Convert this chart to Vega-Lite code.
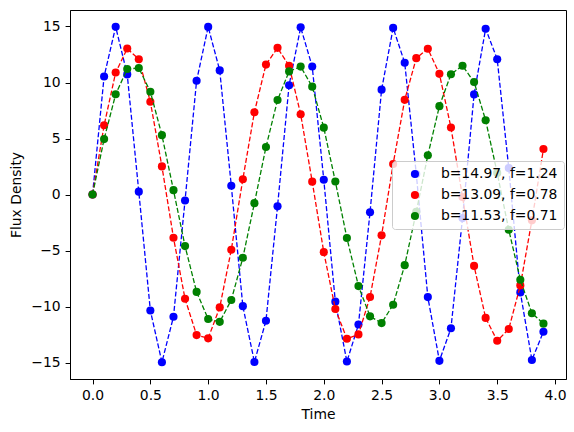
{
  "$schema": "https://vega.github.io/schema/vega-lite/v6.json",
  "width": 496,
  "height": 369,
  "autosize": {"type": "none"},
  "padding": {"left": 70, "top": 10, "right": 8, "bottom": 53},
  "background": "white",
  "config": {
    "font": "DejaVu Sans",
    "view": {"stroke": "black", "strokeWidth": 1},
    "axis": {
      "grid": false,
      "domainColor": "black",
      "tickColor": "black",
      "tickSize": 4.9,
      "labelPadding": 4.9,
      "labelColor": "black",
      "labelFontSize": 13.9,
      "labelFont": "DejaVu Sans",
      "titleFont": "DejaVu Sans",
      "titleFontSize": 13.9,
      "titleFontWeight": "normal",
      "titleColor": "black"
    }
  },
  "data": {
    "values": [
      {"t": 0.0, "y": 0, "series": "b=14.97, f=1.24"},
      {"t": 0.1, "y": 10.54, "series": "b=14.97, f=1.24"},
      {"t": 0.2, "y": 14.97, "series": "b=14.97, f=1.24"},
      {"t": 0.3, "y": 10.72, "series": "b=14.97, f=1.24"},
      {"t": 0.4, "y": 0.26, "series": "b=14.97, f=1.24"},
      {"t": 0.5, "y": -10.35, "series": "b=14.97, f=1.24"},
      {"t": 0.6, "y": -14.96, "series": "b=14.97, f=1.24"},
      {"t": 0.7, "y": -10.91, "series": "b=14.97, f=1.24"},
      {"t": 0.8, "y": -0.53, "series": "b=14.97, f=1.24"},
      {"t": 0.9, "y": 10.16, "series": "b=14.97, f=1.24"},
      {"t": 1.0, "y": 14.96, "series": "b=14.97, f=1.24"},
      {"t": 1.1, "y": 11.08, "series": "b=14.97, f=1.24"},
      {"t": 1.2, "y": 0.79, "series": "b=14.97, f=1.24"},
      {"t": 1.3, "y": -9.96, "series": "b=14.97, f=1.24"},
      {"t": 1.4, "y": -14.94, "series": "b=14.97, f=1.24"},
      {"t": 1.5, "y": -11.26, "series": "b=14.97, f=1.24"},
      {"t": 1.6, "y": -1.05, "series": "b=14.97, f=1.24"},
      {"t": 1.7, "y": 9.76, "series": "b=14.97, f=1.24"},
      {"t": 1.8, "y": 14.92, "series": "b=14.97, f=1.24"},
      {"t": 1.9, "y": 11.43, "series": "b=14.97, f=1.24"},
      {"t": 2.0, "y": 1.32, "series": "b=14.97, f=1.24"},
      {"t": 2.1, "y": -9.56, "series": "b=14.97, f=1.24"},
      {"t": 2.2, "y": -14.9, "series": "b=14.97, f=1.24"},
      {"t": 2.3, "y": -11.6, "series": "b=14.97, f=1.24"},
      {"t": 2.4, "y": -1.58, "series": "b=14.97, f=1.24"},
      {"t": 2.5, "y": 9.36, "series": "b=14.97, f=1.24"},
      {"t": 2.6, "y": 14.87, "series": "b=14.97, f=1.24"},
      {"t": 2.7, "y": 11.76, "series": "b=14.97, f=1.24"},
      {"t": 2.8, "y": 1.84, "series": "b=14.97, f=1.24"},
      {"t": 2.9, "y": -9.15, "series": "b=14.97, f=1.24"},
      {"t": 3.0, "y": -14.84, "series": "b=14.97, f=1.24"},
      {"t": 3.1, "y": -11.93, "series": "b=14.97, f=1.24"},
      {"t": 3.2, "y": -2.1, "series": "b=14.97, f=1.24"},
      {"t": 3.3, "y": 8.94, "series": "b=14.97, f=1.24"},
      {"t": 3.4, "y": 14.8, "series": "b=14.97, f=1.24"},
      {"t": 3.5, "y": 12.08, "series": "b=14.97, f=1.24"},
      {"t": 3.6, "y": 2.36, "series": "b=14.97, f=1.24"},
      {"t": 3.7, "y": -8.73, "series": "b=14.97, f=1.24"},
      {"t": 3.8, "y": -14.76, "series": "b=14.97, f=1.24"},
      {"t": 3.9, "y": -12.24, "series": "b=14.97, f=1.24"},
      {"t": 0.0, "y": 0, "series": "b=13.09, f=0.78"},
      {"t": 0.1, "y": 6.18, "series": "b=13.09, f=0.78"},
      {"t": 0.2, "y": 10.89, "series": "b=13.09, f=0.78"},
      {"t": 0.3, "y": 13.03, "series": "b=13.09, f=0.78"},
      {"t": 0.4, "y": 12.08, "series": "b=13.09, f=0.78"},
      {"t": 0.5, "y": 8.28, "series": "b=13.09, f=0.78"},
      {"t": 0.6, "y": 2.51, "series": "b=13.09, f=0.78"},
      {"t": 0.7, "y": -3.85, "series": "b=13.09, f=0.78"},
      {"t": 0.8, "y": -9.3, "series": "b=13.09, f=0.78"},
      {"t": 0.9, "y": -12.54, "series": "b=13.09, f=0.78"},
      {"t": 1.0, "y": -12.83, "series": "b=13.09, f=0.78"},
      {"t": 1.1, "y": -10.07, "series": "b=13.09, f=0.78"},
      {"t": 1.2, "y": -4.93, "series": "b=13.09, f=0.78"},
      {"t": 1.3, "y": 1.37, "series": "b=13.09, f=0.78"},
      {"t": 1.4, "y": 7.35, "series": "b=13.09, f=0.78"},
      {"t": 1.5, "y": 11.6, "series": "b=13.09, f=0.78"},
      {"t": 1.6, "y": 13.09, "series": "b=13.09, f=0.78"},
      {"t": 1.7, "y": 11.49, "series": "b=13.09, f=0.78"},
      {"t": 1.8, "y": 7.17, "series": "b=13.09, f=0.78"},
      {"t": 1.9, "y": 1.15, "series": "b=13.09, f=0.78"},
      {"t": 2.0, "y": -5.14, "series": "b=13.09, f=0.78"},
      {"t": 2.1, "y": -10.21, "series": "b=13.09, f=0.78"},
      {"t": 2.2, "y": -12.87, "series": "b=13.09, f=0.78"},
      {"t": 2.3, "y": -12.48, "series": "b=13.09, f=0.78"},
      {"t": 2.4, "y": -9.14, "series": "b=13.09, f=0.78"},
      {"t": 2.5, "y": -3.64, "series": "b=13.09, f=0.78"},
      {"t": 2.6, "y": 2.73, "series": "b=13.09, f=0.78"},
      {"t": 2.7, "y": 8.45, "series": "b=13.09, f=0.78"},
      {"t": 2.8, "y": 12.17, "series": "b=13.09, f=0.78"},
      {"t": 2.9, "y": 13.01, "series": "b=13.09, f=0.78"},
      {"t": 3.0, "y": 10.77, "series": "b=13.09, f=0.78"},
      {"t": 3.1, "y": 5.98, "series": "b=13.09, f=0.78"},
      {"t": 3.2, "y": -0.22, "series": "b=13.09, f=0.78"},
      {"t": 3.3, "y": -6.37, "series": "b=13.09, f=0.78"},
      {"t": 3.4, "y": -11.01, "series": "b=13.09, f=0.78"},
      {"t": 3.5, "y": -13.05, "series": "b=13.09, f=0.78"},
      {"t": 3.6, "y": -12.0, "series": "b=13.09, f=0.78"},
      {"t": 3.7, "y": -8.11, "series": "b=13.09, f=0.78"},
      {"t": 3.8, "y": -2.3, "series": "b=13.09, f=0.78"},
      {"t": 3.9, "y": 4.06, "series": "b=13.09, f=0.78"},
      {"t": 0.0, "y": 0, "series": "b=11.53, f=0.71"},
      {"t": 0.1, "y": 4.95, "series": "b=11.53, f=0.71"},
      {"t": 0.2, "y": 8.95, "series": "b=11.53, f=0.71"},
      {"t": 0.3, "y": 11.2, "series": "b=11.53, f=0.71"},
      {"t": 0.4, "y": 11.29, "series": "b=11.53, f=0.71"},
      {"t": 0.5, "y": 9.18, "series": "b=11.53, f=0.71"},
      {"t": 0.6, "y": 5.3, "series": "b=11.53, f=0.71"},
      {"t": 0.7, "y": 0.39, "series": "b=11.53, f=0.71"},
      {"t": 0.8, "y": -4.6, "series": "b=11.53, f=0.71"},
      {"t": 0.9, "y": -8.69, "series": "b=11.53, f=0.71"},
      {"t": 1.0, "y": -11.11, "series": "b=11.53, f=0.71"},
      {"t": 1.1, "y": -11.36, "series": "b=11.53, f=0.71"},
      {"t": 1.2, "y": -9.41, "series": "b=11.53, f=0.71"},
      {"t": 1.3, "y": -5.64, "series": "b=11.53, f=0.71"},
      {"t": 1.4, "y": -0.77, "series": "b=11.53, f=0.71"},
      {"t": 1.5, "y": 4.24, "series": "b=11.53, f=0.71"},
      {"t": 1.6, "y": 8.44, "series": "b=11.53, f=0.71"},
      {"t": 1.7, "y": 10.99, "series": "b=11.53, f=0.71"},
      {"t": 1.8, "y": 11.42, "series": "b=11.53, f=0.71"},
      {"t": 1.9, "y": 9.63, "series": "b=11.53, f=0.71"},
      {"t": 2.0, "y": 5.97, "series": "b=11.53, f=0.71"},
      {"t": 2.1, "y": 1.16, "series": "b=11.53, f=0.71"},
      {"t": 2.2, "y": -3.88, "series": "b=11.53, f=0.71"},
      {"t": 2.3, "y": -8.17, "series": "b=11.53, f=0.71"},
      {"t": 2.4, "y": -10.87, "series": "b=11.53, f=0.71"},
      {"t": 2.5, "y": -11.47, "series": "b=11.53, f=0.71"},
      {"t": 2.6, "y": -9.83, "series": "b=11.53, f=0.71"},
      {"t": 2.7, "y": -6.3, "series": "b=11.53, f=0.71"},
      {"t": 2.8, "y": -1.55, "series": "b=11.53, f=0.71"},
      {"t": 2.9, "y": 3.51, "series": "b=11.53, f=0.71"},
      {"t": 3.0, "y": 7.89, "series": "b=11.53, f=0.71"},
      {"t": 3.1, "y": 10.74, "series": "b=11.53, f=0.71"},
      {"t": 3.2, "y": 11.5, "series": "b=11.53, f=0.71"},
      {"t": 3.3, "y": 10.04, "series": "b=11.53, f=0.71"},
      {"t": 3.4, "y": 6.63, "series": "b=11.53, f=0.71"},
      {"t": 3.5, "y": 1.93, "series": "b=11.53, f=0.71"},
      {"t": 3.6, "y": -3.14, "series": "b=11.53, f=0.71"},
      {"t": 3.7, "y": -7.6, "series": "b=11.53, f=0.71"},
      {"t": 3.8, "y": -10.59, "series": "b=11.53, f=0.71"},
      {"t": 3.9, "y": -11.52, "series": "b=11.53, f=0.71"}
    ]
  },
  "encoding": {
    "x": {
      "field": "t", "type": "quantitative", "title": "Time",
      "scale": {"domain": [-0.195, 4.095], "nice": false, "zero": false},
      "axis": {"values": [0, 0.5, 1, 1.5, 2, 2.5, 3, 3.5, 4], "format": ".1f", "titlePadding": 5}
    },
    "y": {
      "field": "y", "type": "quantitative", "title": "Flux Density",
      "scale": {"domain": [-16.46, 16.47], "nice": false, "zero": false},
      "axis": {"values": [-15, -10, -5, 0, 5, 10, 15], "format": "d", "titlePadding": 7}
    }
  },
  "layer": [
    {
      "transform": [{"filter": "datum.series === 'b=14.97, f=1.24'"}],
      "mark": {"type": "line", "color": "#0000ff", "strokeWidth": 1.3, "strokeDash": [5, 2.2]}
    },
    {
      "transform": [{"filter": "datum.series === 'b=14.97, f=1.24'"}],
      "mark": {"type": "point", "filled": true, "size": 66, "opacity": 1},
      "encoding": {"color": {"field": "series", "type": "nominal"}}
    },
    {
      "transform": [{"filter": "datum.series === 'b=13.09, f=0.78'"}],
      "mark": {"type": "line", "color": "#ff0000", "strokeWidth": 1.3, "strokeDash": [5, 2.2]}
    },
    {
      "transform": [{"filter": "datum.series === 'b=13.09, f=0.78'"}],
      "mark": {"type": "point", "filled": true, "size": 66, "opacity": 1},
      "encoding": {"color": {"field": "series", "type": "nominal"}}
    },
    {
      "transform": [{"filter": "datum.series === 'b=11.53, f=0.71'"}],
      "mark": {"type": "line", "color": "#008000", "strokeWidth": 1.3, "strokeDash": [5, 2.2]}
    },
    {
      "transform": [{"filter": "datum.series === 'b=11.53, f=0.71'"}],
      "mark": {"type": "point", "filled": true, "size": 66, "opacity": 1},
      "encoding": {
        "color": {
          "field": "series", "type": "nominal",
          "scale": {"domain": ["b=14.97, f=1.24", "b=13.09, f=0.78", "b=11.53, f=0.71"], "range": ["#0000ff", "#ff0000", "#008000"]},
          "legend": {
            "title": null,
            "orient": "none",
            "legendX": 322,
            "legendY": 151,
            "fillColor": "rgba(255,255,255,0.8)",
            "strokeColor": "#cccccc",
            "cornerRadius": 3,
            "padding": 6,
            "symbolType": "circle",
            "symbolSize": 66,
            "symbolOffset": 10,
            "symbolStrokeWidth": 0,
            "labelFontSize": 13.9,
            "labelFont": "DejaVu Sans",
            "labelColor": "black",
            "labelOffset": 19,
            "rowPadding": 6,
            "labelLimit": 300
          }
        }
      }
    }
  ]
}
